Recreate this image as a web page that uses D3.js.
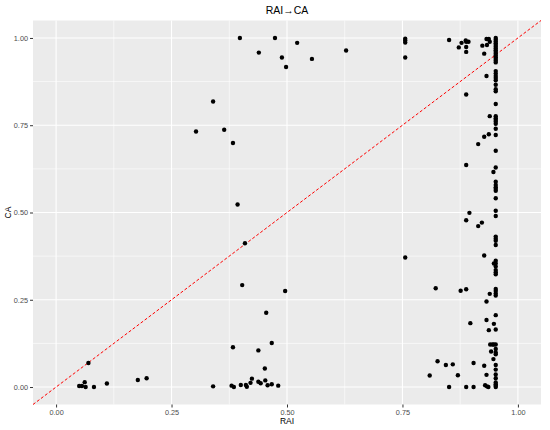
<!DOCTYPE html>
<html>
<head>
<meta charset="utf-8">
<script src="https://cdn.jsdelivr.net/npm/d3@7"></script>
<style>
  body { margin: 0; background: #fff; }
  text { font-family: "Liberation Sans", Arial, sans-serif; }
</style>
</head>
<body>
<div id="chart"></div>
<script>
// scattered points (RAI, CA)
const raiValues = [0.050, 0.056, 0.062, 0.064, 0.070, 0.082, 0.110, 0.177, 0.196, 0.303,
  0.340, 0.340, 0.364, 0.383, 0.380, 0.385, 0.383, 0.393, 0.398, 0.400,
  0.403, 0.409, 0.411, 0.413, 0.421, 0.424, 0.438, 0.438, 0.439, 0.443,
  0.452, 0.453, 0.455, 0.458, 0.467, 0.467, 0.474, 0.481, 0.489, 0.496,
  0.498, 0.522, 0.554, 0.628, 0.756, 0.756, 0.756, 0.756, 0.756,
  0.809, 0.822, 0.826, 0.844, 0.851, 0.851, 0.859, 0.870, 0.872, 0.876,
  0.878, 0.887, 0.888, 0.893, 0.888, 0.888, 0.888, 0.888, 0.888, 0.888,
  0.888, 0.895, 0.897, 0.904, 0.904, 0.914, 0.914, 0.922, 0.923, 0.927,
  0.927, 0.927, 0.927, 0.929, 0.932, 0.933, 0.932, 0.932, 0.932, 0.932,
  0.933, 0.937, 0.937, 0.937, 0.936, 0.939, 0.939, 0.939, 0.940, 0.942,
  0.945, 0.947, 0.947, 0.948, 0.948, 0.948];
const caValues = [0.003, 0.003, 0.014, 0.000, 0.069, 0.000, 0.010, 0.020, 0.025, 0.732,
  0.818, 0.002, 0.737, 0.699, 0.004, 0.000, 0.114, 0.523, 1.000, 0.006,
  0.292, 0.412, 0.006, 0.001, 0.012, 0.024, 0.105, 0.015, 0.958, 0.011,
  0.053, 0.019, 0.213, 0.005, 0.126, 0.008, 1.000, 0.004, 0.944, 0.275,
  0.917, 0.986, 0.940, 0.964, 0.998, 0.993, 0.987, 0.944, 0.371,
  0.033, 0.283, 0.074, 0.063, 0.994, 0.000, 0.065, 0.034, 0.973, 0.276,
  0.986, 0.993, 0.989, 0.989, 0.974, 0.960, 0.838, 0.636, 0.478, 0.280,
  0.000, 0.499, 0.183, 0.069, 0.000, 0.696, 0.461, 0.471, 0.978, 0.955,
  0.717, 0.377, 0.061, 0.005, 0.997, 0.980, 0.891, 0.245, 0.192, 0.035,
  0.002, 0.997, 0.724, 0.163, 0.000, 0.989, 0.776, 0.267, 0.122, 0.102,
  0.122, 0.616, 0.080, 0.354, 0.181, 0.122];

// the column of points at RAI = 0.952
const columnRai = 0.952;
const columnCa = [1.000, 0.995, 0.990, 0.985, 0.980, 0.975, 0.970, 0.965, 0.960, 0.955,
  0.950, 0.945, 0.940, 0.935, 0.930, 0.905, 0.898, 0.891, 0.885, 0.879,
  0.866, 0.853, 0.847, 0.811, 0.776, 0.770, 0.765, 0.760, 0.754, 0.740,
  0.722, 0.677, 0.629, 0.588, 0.579, 0.572, 0.567, 0.562, 0.541, 0.505,
  0.490, 0.431, 0.425, 0.419, 0.407, 0.362, 0.354, 0.345, 0.335, 0.329,
  0.323, 0.281, 0.275, 0.268, 0.262, 0.206, 0.165, 0.122, 0.109, 0.099,
  0.094, 0.063, 0.050, 0.036, 0.025, 0.013, 0.008, 0.004, 0.000];

const majorTicks = [0, 0.25, 0.5, 0.75, 1];
const minorTicks = [0.125, 0.375, 0.625, 0.875];
const tickLabels = ["0.00", "0.25", "0.50", "0.75", "1.00"];

const width = 550, height = 430;
const panel = { left: 33, right: 541, top: 20.5, bottom: 404.5 };

const x = d3.scaleLinear().domain([-0.05, 1.05]).range([panel.left, panel.right]);
const y = d3.scaleLinear().domain([-0.05, 1.05]).range([panel.bottom, panel.top]);

const points = raiValues.map((r, i) => ({ rai: r, ca: caValues[i] }))
  .concat(columnCa.map(c => ({ rai: columnRai, ca: c })));

const svg = d3.select("#chart").append("svg")
  .attr("width", width)
  .attr("height", height);

svg.append("rect")
  .attr("x", panel.left).attr("y", panel.top)
  .attr("width", panel.right - panel.left)
  .attr("height", panel.bottom - panel.top)
  .attr("fill", "#EBEBEB");

const grid = svg.append("g");
minorTicks.forEach(t => {
  grid.append("line").attr("x1", x(t)).attr("x2", x(t))
    .attr("y1", panel.top).attr("y2", panel.bottom)
    .attr("stroke", "#fff").attr("stroke-width", 0.6);
  grid.append("line").attr("y1", y(t)).attr("y2", y(t))
    .attr("x1", panel.left).attr("x2", panel.right)
    .attr("stroke", "#fff").attr("stroke-width", 0.6);
});
majorTicks.forEach(t => {
  grid.append("line").attr("x1", x(t)).attr("x2", x(t))
    .attr("y1", panel.top).attr("y2", panel.bottom)
    .attr("stroke", "#fff").attr("stroke-width", 1.1);
  grid.append("line").attr("y1", y(t)).attr("y2", y(t))
    .attr("x1", panel.left).attr("x2", panel.right)
    .attr("stroke", "#fff").attr("stroke-width", 1.1);
});

// y = x reference line
svg.append("line")
  .attr("x1", x(-0.05)).attr("y1", y(-0.05))
  .attr("x2", x(1.05)).attr("y2", y(1.05))
  .attr("stroke", "red")
  .attr("stroke-width", 1)
  .attr("stroke-dasharray", "3,2");

svg.append("g")
  .selectAll("circle")
  .data(points)
  .enter()
  .append("circle")
  .attr("cx", d => x(d.rai))
  .attr("cy", d => y(d.ca))
  .attr("r", 2.2)
  .attr("fill", "#000");

const xAxis = d3.axisBottom(x).tickValues(majorTicks)
  .tickFormat((d, i) => tickLabels[i]).tickSize(3).tickPadding(2);
const yAxis = d3.axisLeft(y).tickValues(majorTicks)
  .tickFormat((d, i) => tickLabels[i]).tickSize(3).tickPadding(2);

const gx = svg.append("g")
  .attr("transform", `translate(0,${panel.bottom})`)
  .call(xAxis);
const gy = svg.append("g")
  .attr("transform", `translate(${panel.left},0)`)
  .call(yAxis);

[gx, gy].forEach(g => {
  g.select(".domain").remove();
  g.selectAll(".tick line").attr("stroke", "#333");
  g.selectAll(".tick text")
    .attr("fill", "#4D4D4D")
    .style("font-size", "7.3px")
    .style("font-family", "'Liberation Sans', Arial, sans-serif");
});

svg.append("text")
  .text("RAI\u2192CA")
  .attr("x", (panel.left + panel.right) / 2)
  .attr("y", 13.5)
  .attr("text-anchor", "middle")
  .attr("font-size", "10.5px")
  .attr("fill", "#000");

svg.append("text")
  .text("RAI")
  .attr("x", (panel.left + panel.right) / 2)
  .attr("y", 424)
  .attr("text-anchor", "middle")
  .attr("font-size", "8.5px")
  .attr("fill", "#000");

svg.append("text")
  .text("CA")
  .attr("transform", `translate(11,${(panel.top + panel.bottom) / 2}) rotate(-90)`)
  .attr("text-anchor", "middle")
  .attr("font-size", "8.5px")
  .attr("fill", "#000");
</script>
</body>
</html>
